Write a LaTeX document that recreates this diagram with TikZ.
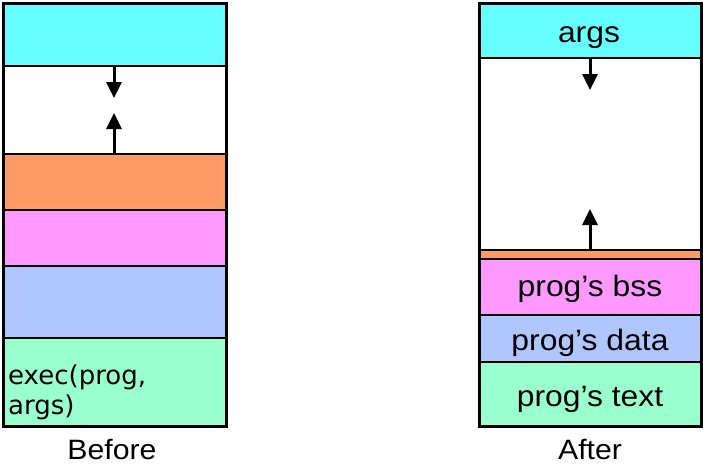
\documentclass[tikz,border=0pt]{standalone}
\usepackage{fontspec}
\setmainfont{Liberation Sans}
\newfontfamily\dejavu{DejaVu Sans}
\usetikzlibrary{arrows.meta}
\definecolor{cyanc}{HTML}{66FFFF}
\definecolor{orangec}{HTML}{FF9966}
\definecolor{pinkc}{HTML}{FF99FF}
\definecolor{bluec}{HTML}{B0C6FF}
\definecolor{greenc}{HTML}{99FFCC}
\newcommand{\wide}[1]{\scalebox{1.08}[1]{#1}}
\tikzset{
  seg/.style={draw=black, line width=1.3pt, inner sep=0pt, outer sep=0pt, anchor=north west},
  lbl/.style={font=\fontsize{29.5}{34}\selectfont, inner sep=0pt, anchor=base},
  captionlbl/.style={font=\fontsize{28}{32}\selectfont, inner sep=0pt, anchor=base},
  growarrow/.style={line width=3pt, -{Triangle[length=16pt,width=15pt]}},
  frame/.style={draw=black, line width=3pt}
}
\begin{document}
\begin{tikzpicture}[x=1pt,y=-1pt]
\useasboundingbox (0,0) rectangle (703,463);
% ---- Before ----
\node[seg, fill=cyanc,   minimum width=223pt, minimum height=63pt] (Lcyan) at (3,3) {};
\node[seg, fill=white,   minimum width=223pt, minimum height=88pt] (Lfree) at (3,66) {};
\node[seg, fill=orangec, minimum width=223pt, minimum height=56pt] (Lorange) at (3,154) {};
\node[seg, fill=pinkc,   minimum width=223pt, minimum height=56pt] (Lpink) at (3,210) {};
\node[seg, fill=bluec,   minimum width=223pt, minimum height=72pt] (Lblue) at (3,266) {};
\node[seg, fill=greenc,  minimum width=223pt, minimum height=88pt] (Lgreen) at (3,338) {};
\draw[frame] (Lcyan.north west) rectangle (Lgreen.south east);
\node[font=\dejavu\fontsize{26}{30}\selectfont, inner sep=0pt, anchor=base west, align=left] (Ltext) at (8,414) {exec(prog,\\args)};
\coordinate (Ldownend) at (114,98);
\coordinate (Lupend) at (114,113);
\draw[growarrow] (Lcyan.south -| Ldownend) -- (Ldownend);
\draw[growarrow] (Lorange.north -| Lupend) -- (Lupend);
\node[captionlbl] (before) at (112,459) {\wide{Before}};
% ---- After ----
\node[seg, fill=cyanc,   minimum width=222pt, minimum height=55pt] (Rcyan) at (479,3) {};
\node[seg, fill=white,   minimum width=222pt, minimum height=192pt] (Rfree) at (479,58) {};
\node[seg, fill=orangec, minimum width=222pt, minimum height=9pt] (Rorange) at (479,250) {};
\node[seg, fill=pinkc,   minimum width=222pt, minimum height=56pt] (Rpink) at (479,259) {};
\node[seg, fill=bluec,   minimum width=222pt, minimum height=47pt] (Rblue) at (479,315) {};
\node[seg, fill=greenc,  minimum width=222pt, minimum height=64pt] (Rgreen) at (479,362) {};
\draw[frame] (Rcyan.north west) rectangle (Rgreen.south east);
\node[lbl] (Rargs) at (589,42) {\wide{args}};
\node[lbl] (Rbss) at (590,296) {\wide{prog’s bss}};
\node[lbl] (Rdata) at (590,350) {\wide{prog’s data}};
\node[lbl] (Rtext) at (590,406) {\wide{prog’s text}};
\coordinate (Rdownend) at (590,90);
\coordinate (Rupend) at (590,209);
\draw[growarrow] (Rcyan.south -| Rdownend) -- (Rdownend);
\draw[growarrow] (Rorange.north -| Rupend) -- (Rupend);
\node[captionlbl] (after) at (590,459) {\wide{After}};
\end{tikzpicture}
\end{document}
